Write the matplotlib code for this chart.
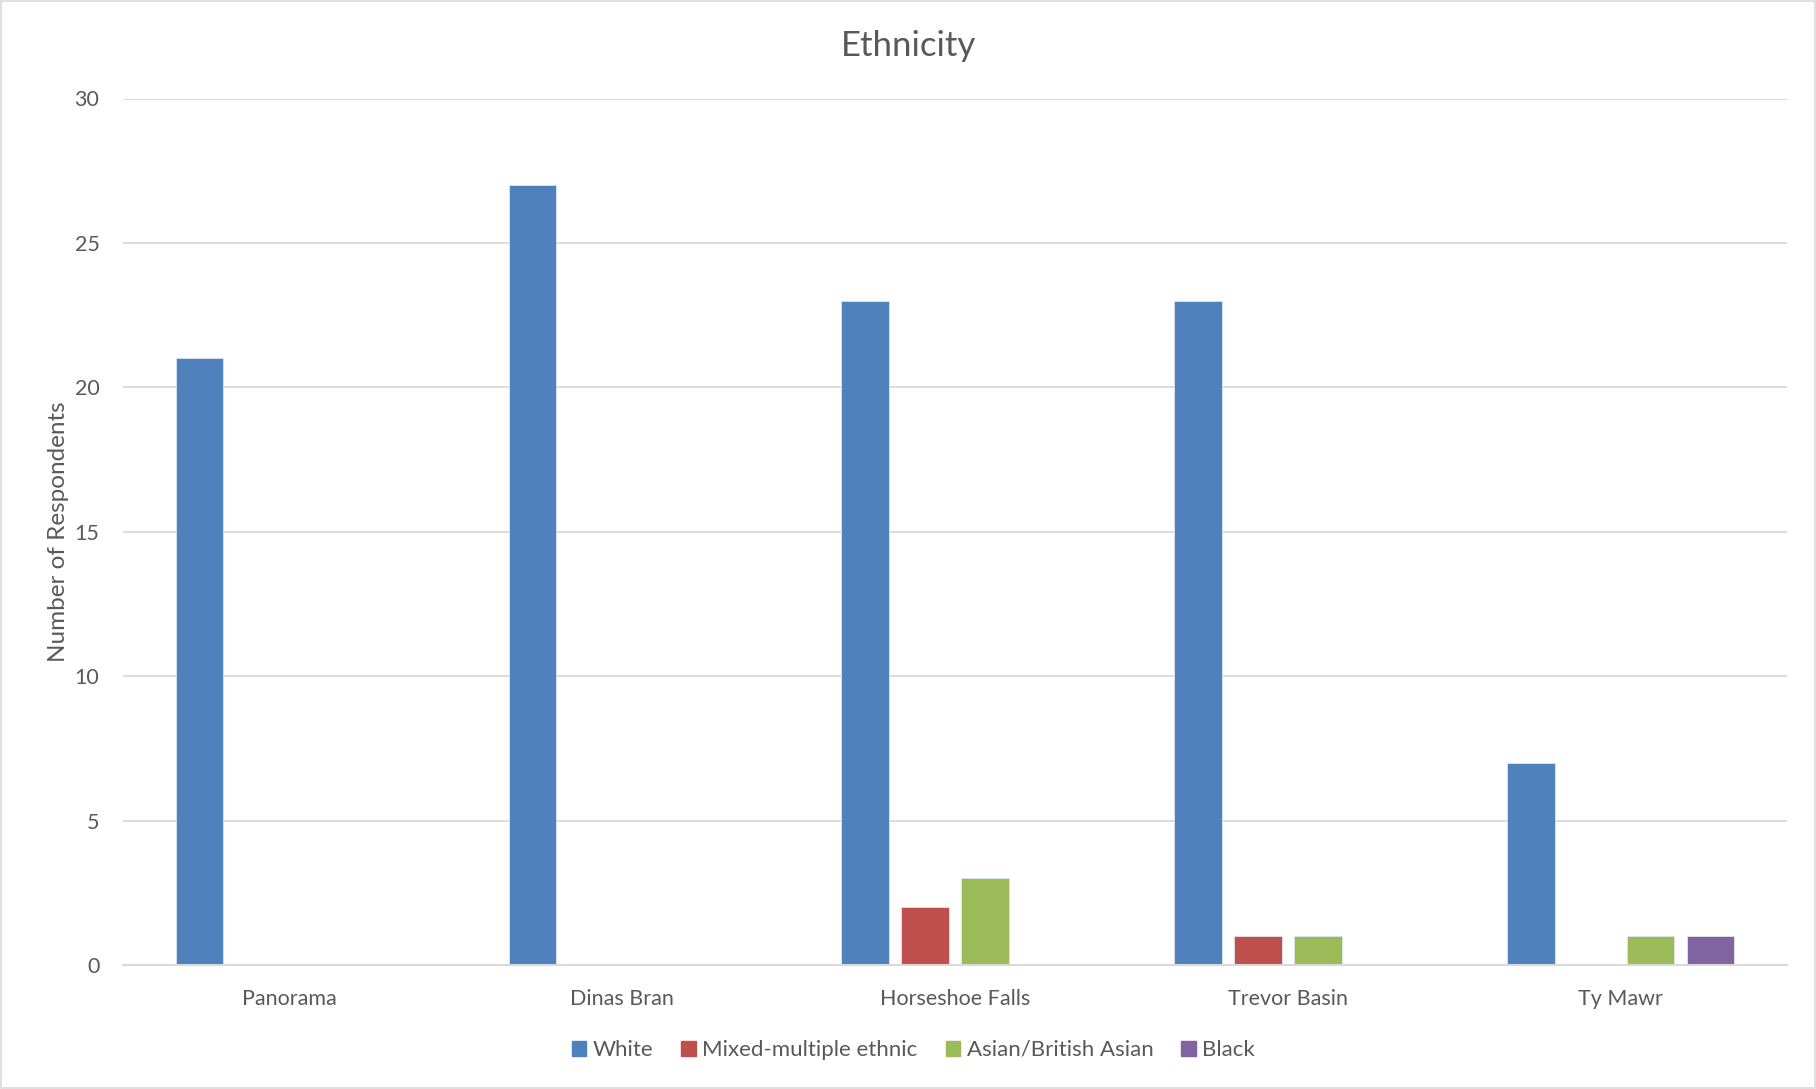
import numpy as np
import matplotlib
matplotlib.use("Agg")
import matplotlib.pyplot as plt
from matplotlib.patches import Rectangle

# data
sites = ["Panorama", "Dinas Bran", "Horseshoe Falls", "Trevor Basin", "Ty Mawr"]
series = ["White", "Mixed-multiple ethnic", "Asian/British Asian", "Black"]
white = [21, 27, 23, 23, 7]
mixed = [0, 0, 2, 1, 0]
asian = [0, 0, 3, 1, 1]
black = [0, 0, 0, 0, 1]
yticks = [0, 5, 10, 15, 20, 25, 30]

colors = ["#4F81BD", "#C0504D", "#9BBB59", "#8064A2"]
text_c = "#595959"
grid_c = "#D9D9D9"

plt.rcParams["font.family"] = ["Lato", "DejaVu Sans"]

fig = plt.figure(figsize=(18.16, 10.89), dpi=100)
ax = fig.add_axes([123 / 1816, 1 - 965 / 1089, (1787 - 123) / 1816, (965 - 98.5) / 1089])

x = np.arange(len(sites))
step = 0.18
width = 0.143
for i, (vals, col) in enumerate(zip([white, mixed, asian, black], colors)):
    v = np.array(vals, dtype=float)
    v[v == 0] = np.nan  # empty slots are not drawn
    ax.bar(x + (i - 1.5) * step, v, width, color=col, edgecolor="#DCE6F2",
           linewidth=0.6, zorder=3)

ax.set_xlim(-0.5, len(sites) - 0.5)
ax.set_ylim(0, 30)
ax.set_yticks(yticks)
ax.set_xticks(x)
ax.set_xticklabels(sites)
ax.yaxis.grid(True, color=grid_c, linewidth=1.3, zorder=0)
for s in ["top", "right", "left"]:
    ax.spines[s].set_visible(False)
ax.spines["bottom"].set_color(grid_c)
ax.spines["bottom"].set_linewidth(1.5)
ax.spines["bottom"].set_zorder(4)
ax.tick_params(axis="both", length=0, labelsize=15.5, colors=text_c)
ax.tick_params(axis="x", pad=17)
ax.tick_params(axis="y", pad=17)
ax.set_ylabel("Number of Respondents", fontsize=17.5, color=text_c, labelpad=4)

fig.text(0.5, 1 - 46 / 1089, "Ethnicity", ha="center", va="center",
         fontsize=25, color=text_c)

handles = [Rectangle((0, 0), 1, 1, color=c) for c in colors]
fig.legend(handles, series, loc="center", bbox_to_anchor=(0.503, 1 - 1050 / 1089),
           ncol=4, frameon=False, fontsize=16, labelcolor=text_c,
           handlelength=0.65, handleheight=0.65, handletextpad=0.3, columnspacing=1.25)

# thin outer frame like the original chart area
fig.patches.append(Rectangle((0.0005, 0.0008), 0.999, 0.998, transform=fig.transFigure,
                             fill=False, edgecolor="#D9D9D9", linewidth=1.2))

fig.savefig("out.png", dpi=100)
